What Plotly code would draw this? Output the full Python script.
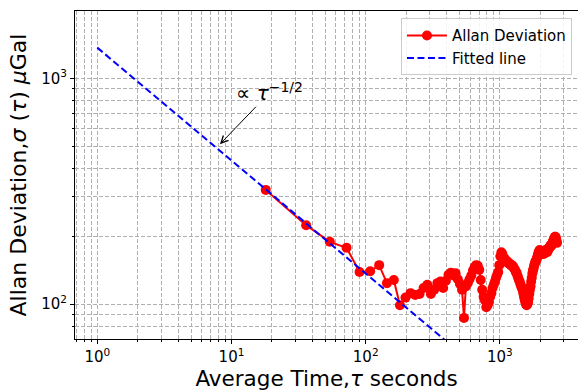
import plotly.graph_objects as go

tau = [18, 36, 54, 72, 90, 108, 126, 144, 162, 180,
       198, 216, 234, 252, 270, 288, 306, 324, 342, 360,
       378, 396, 414, 432, 450, 468, 486, 504, 522, 540,
       558, 576, 594, 612, 630, 648, 666, 684, 702, 720,
       738, 756, 774, 792, 810, 828, 846, 864, 882, 900,
       918, 936, 954, 972, 990, 1008, 1026, 1044, 1062, 1080,
       1098, 1116, 1134, 1152, 1170, 1188, 1206, 1224, 1242, 1260,
       1278, 1296, 1314, 1332, 1350, 1368, 1386, 1404, 1422, 1440,
       1458, 1476, 1494, 1512, 1530, 1548, 1566, 1584, 1602, 1620,
       1638, 1656, 1674, 1692, 1710, 1728, 1746, 1764, 1782, 1800,
       1818, 1836, 1854, 1872, 1890, 1908, 1926, 1944, 1962, 1980,
       1998, 2016, 2034, 2052, 2070, 2088, 2106, 2124, 2142, 2160,
       2178, 2196, 2214, 2232, 2250, 2268, 2286, 2304, 2322, 2340,
       2358, 2376, 2394, 2412, 2430, 2448, 2466, 2484, 2502, 2520,
       2538, 2556, 2574, 2592, 2610, 2628, 2646, 2664]

allan_dev = [321, 224, 189, 178, 139, 140, 149, 124, 128, 99,
             107, 112, 110, 111, 118, 122, 111, 116, 124, 126,
             118, 127, 135, 138, 134, 137, 129, 123, 116, 87,
             120, 124, 129, 134, 141, 146, 149, 148, 142, 128,
             116, 108, 104, 97, 99, 102, 108, 112, 118, 122,
             126, 131, 135, 139, 149, 163, 170, 167, 160, 160,
             157, 155, 155, 152, 152, 151, 149, 149, 148, 146,
             144, 142, 139, 138, 134, 131, 128, 126, 123, 120,
             118, 116, 112, 108, 105, 102, 100, 99, 100, 102,
             106, 111, 116, 120, 126, 131, 137, 141, 144, 148,
             151, 154, 155, 157, 160, 163, 167, 170, 172, 174,
             172, 170, 169, 167, 167, 169, 169, 167, 169, 170,
             172, 174, 174, 172, 170, 172, 174, 176, 178, 178,
             180, 181, 183, 181, 183, 185, 187, 189, 191, 193,
             195, 197, 199, 199, 197, 193, 189, 187]

fit_tau = [1, 2664]
fit_sigma = [1370, 26.5]

x_major = [1, 10, 100, 1000]
x_major_text = ["10<sup>0</sup>", "10<sup>1</sup>", "10<sup>2</sup>", "10<sup>3</sup>"]
x_minor = [0.7, 0.8, 0.9, 2, 3, 4, 5, 6, 7, 8, 9, 20, 30, 40, 50, 60, 70, 80, 90,
           200, 300, 400, 500, 600, 700, 800, 900, 2000, 3000]
y_major = [100, 1000]
y_major_text = ["10<sup>2</sup>", "10<sup>3</sup>"]
y_minor = [70, 80, 90, 200, 300, 400, 500, 600, 700, 800, 900, 2000]

FONT = "DejaVu Sans"
GRID = "#b0b0b0"

fig = go.Figure()
fig.add_trace(go.Scatter(
    x=tau, y=allan_dev, mode="lines+markers", name="Allan Deviation",
    line=dict(color="#ff0000", width=2),
    marker=dict(color="#ff0000", size=10),
))
fig.add_trace(go.Scatter(
    x=fit_tau, y=fit_sigma, mode="lines", name="Fitted line",
    line=dict(color="#0000ff", width=2, dash="7px,3.5px"),
))

axis_common = dict(
    type="log", showline=True, linecolor="black", linewidth=1,
    ticks="outside", ticklen=4, tickcolor="black", automargin=False,
    showgrid=True, gridcolor=GRID, gridwidth=1, griddash="4px,2px",
    zeroline=False, tickfont=dict(family=FONT, size=15, color="black"),
)

fig.update_xaxes(
    **axis_common, mirror=True,
    range=[-0.166, 3.582],
    tickmode="array", tickvals=x_major, ticktext=x_major_text,
    minor=dict(tickmode="array", tickvals=x_minor, ticks="outside", ticklen=2,
               tickcolor="black", showgrid=True, gridcolor=GRID, griddash="4px,2px"),
    title=dict(text="Average Time,<i>τ</i> seconds",
               font=dict(family=FONT, size=21.5, color="black"), standoff=2),
)
fig.update_yaxes(
    **axis_common, mirror=False,
    range=[1.846, 3.299],
    tickmode="array", tickvals=y_major, ticktext=y_major_text,
    minor=dict(tickmode="array", tickvals=y_minor, ticks="outside", ticklen=2,
               tickcolor="black", showgrid=True, gridcolor=GRID, griddash="4px,2px"),
    title=dict(text="Allan Deviation,<i>σ</i> (<i>τ</i>) <i>μ</i>Gal",
               font=dict(family=FONT, size=22, color="black"), standoff=8),
)

fig.add_annotation(
    x=0.914, y=2.709, xref="x", yref="y",
    text="∝ <i>τ</i><sup>−1/2</sup>",
    showarrow=True, arrowhead=5, arrowsize=1.4, arrowwidth=1, arrowcolor="black",
    ax=50, ay=-52, font=dict(family=FONT, size=20, color="black"),
)

fig.update_layout(
    width=578, height=392,
    margin=dict(l=75, r=0, t=11, b=53, autoexpand=False),
    paper_bgcolor="white", plot_bgcolor="white",
    font=dict(family=FONT, color="black"),
    showlegend=True,
    legend=dict(x=0.988, y=0.978, xanchor="right", yanchor="top",
                bgcolor="rgba(255,255,255,0.85)", bordercolor="#cccccc", borderwidth=1,
                font=dict(family=FONT, size=15, color="black"),
                itemwidth=40, tracegroupgap=2),
)

fig.write_html("out.html", config={"displayModeBar": False},
               post_script="document.body.style.margin='0';document.body.style.overflow='hidden';")
